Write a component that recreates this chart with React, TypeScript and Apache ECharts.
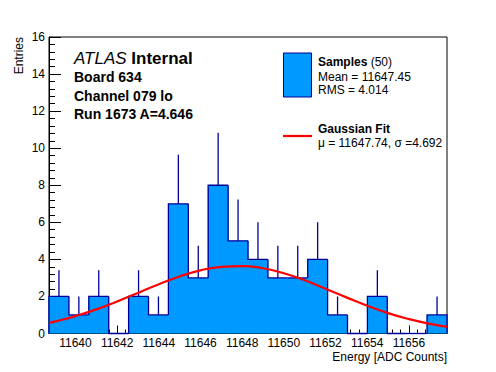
import React, { useEffect, useRef } from "react";
import * as echarts from "echarts";

// ---- data ----
const binCounts = [2, 1, 2, 0, 2, 1, 7, 3, 8, 5, 4, 3, 3, 4, 1, 0, 2, 0, 0, 1];
const binLow = 11638.73;
const binWidth = 0.955;
const xMin = 11638.73;
const xMax = 11657.83;

const fitX = [11638.73, 11639, 11640, 11641, 11642, 11643, 11644, 11645, 11646, 11647, 11648, 11649, 11650, 11651, 11652, 11653, 11654, 11655, 11656, 11657, 11657.83];
const fitY = [0.58, 0.64, 0.94, 1.3, 1.73, 2.19, 2.66, 3.08, 3.41, 3.6, 3.64, 3.52, 3.25, 2.87, 2.42, 1.95, 1.5, 1.1, 0.78, 0.52, 0.36];

const xTickLabels = [11640, 11642, 11644, 11646, 11648, 11650, 11652, 11654, 11656];
const xMinorTicks: number[] = [];
for (let k = 0; k < 48; k++) {
  const v = Math.round((11638.8 + k * 0.4) * 10) / 10;
  if (v > xMax) break;
  if (!xTickLabels.some((t) => Math.abs(t - v) < 1e-6)) xMinorTicks.push(v);
}
const yTickMax = 16;
const yTickStep = 2;

const FILL = "#0099ff";
const EDGE = "#000099";
const FONT = "Liberation Sans, Arial, Helvetica, sans-serif";

export default function App() {
  const ref = useRef<HTMLDivElement>(null);
  useEffect(() => {
    if (!ref.current) return;
    const chart = echarts.init(ref.current, null, { renderer: "svg" });
    const last = binCounts.length - 1;
    const histData = binCounts.map((c, i) => [
      binLow + i * binWidth,
      binLow + (i + 1) * binWidth,
      c,
      i > 0 ? binCounts[i - 1] : 0,
      i === last ? 1 : 0,
    ]);
    chart.setOption({
      animation: false,
      backgroundColor: "#fff",
      textStyle: { fontFamily: FONT },
      grid: {
        left: 49,
        right: 49,
        top: 37,
        bottom: 38.5,
        show: true,
        borderColor: "#000",
        borderWidth: 1,
        backgroundColor: "transparent",
      },
      xAxis: [
        {
          type: "value",
          min: xMin,
          max: xMax,
          position: "bottom",
          axisLine: { show: true, onZero: false, lineStyle: { color: "#000", width: 1 } },
          axisTick: { show: true, inside: true, length: 8, customValues: xTickLabels, lineStyle: { color: "#000" } },
          axisLabel: {
            customValues: xTickLabels,
            color: "#000",
            fontSize: 12,
            margin: 3,
            fontFamily: FONT,
            lineHeight: 12,
            formatter: (v: number) => String(v),
          },
          splitLine: { show: false },
        },
        {
          type: "value",
          min: xMin,
          max: xMax,
          position: "bottom",
          axisLine: { show: false, onZero: false },
          axisTick: { show: true, inside: true, length: 4, customValues: xMinorTicks, lineStyle: { color: "#000" } },
          axisLabel: { show: false },
          splitLine: { show: false },
        },
      ],
      yAxis: {
        type: "value",
        min: 0,
        max: yTickMax,
        interval: yTickStep,
        axisLine: { show: true, lineStyle: { color: "#000", width: 1 } },
        axisTick: { show: true, inside: true, length: 12, lineStyle: { color: "#000" } },
        minorTick: { show: true, splitNumber: 5, length: 6, lineStyle: { color: "#000" } },
        axisLabel: { color: "#000", fontSize: 12, margin: 4, fontFamily: FONT },
        splitLine: { show: false },
      },
      series: [
        {
          type: "custom",
          xAxisIndex: 0,
          yAxisIndex: 0,
          z: 2,
          encode: { x: [0, 1], y: 2 },
          data: histData,
          renderItem: (params: any, api: any) => {
            const x0 = api.value(0);
            const x1 = api.value(1);
            const c = api.value(2);
            const prev = api.value(3);
            const isLast = api.value(4);
            const tl = api.coord([x0, c]);
            const br = api.coord([x1, 0]);
            const pPrev = api.coord([x0, prev]);
            const children: any[] = [];
            if (c > 0) {
              children.push({
                type: "rect",
                shape: { x: tl[0] - 0.4, y: tl[1], width: br[0] - tl[0] + 0.8, height: br[1] - tl[1] },
                style: { fill: FILL },
              });
            }
            const pts = [
              [tl[0], pPrev[1]],
              [tl[0], tl[1]],
              [br[0], tl[1]],
            ];
            if (isLast) pts.push([br[0], br[1]]);
            children.push({
              type: "polyline",
              shape: { points: pts },
              style: { stroke: EDGE, lineWidth: 1.3, fill: null },
            });
            if (c > 0) {
              const xm = (x0 + x1) / 2;
              const a = api.coord([xm, c]);
              const b = api.coord([xm, c + Math.sqrt(c)]);
              children.push({
                type: "line",
                shape: { x1: a[0], y1: a[1], x2: b[0], y2: b[1] },
                style: { stroke: EDGE, lineWidth: 1.3 },
              });
            }
            return { type: "group", children };
          },
        },
        {
          type: "line",
          xAxisIndex: 0,
          yAxisIndex: 0,
          z: 5,
          smooth: true,
          showSymbol: false,
          symbol: "none",
          data: fitX.map((x, i) => [x, fitY[i]]),
          lineStyle: { color: "#ff0000", width: 2.2 },
        },
      ],
      graphic: [
        {
          type: "text",
          x: 74,
          y: 58,
          style: {
            text: "{i|ATLAS} {b|Internal}",
            verticalAlign: "middle",
            rich: {
              i: { fontStyle: "italic", fontSize: 17, fontFamily: FONT, fill: "#000" },
              b: { fontWeight: "bold", fontSize: 17, fontFamily: FONT, fill: "#000" },
            },
            fontSize: 17,
            fontFamily: FONT,
          },
        },
        { type: "text", x: 74, y: 77, style: { text: "Board 634", fontSize: 14, fontWeight: "bold", fontFamily: FONT, fill: "#000", verticalAlign: "middle" } },
        { type: "text", x: 74, y: 96, style: { text: "Channel 079 lo", fontSize: 14, fontWeight: "bold", fontFamily: FONT, fill: "#000", verticalAlign: "middle" } },
        { type: "text", x: 74, y: 114, style: { text: "Run 1673 A=4.646", fontSize: 14, fontWeight: "bold", fontFamily: FONT, fill: "#000", verticalAlign: "middle" } },
        // legend
        { type: "rect", shape: { x: 283.5, y: 53, width: 28, height: 44 }, style: { fill: FILL, stroke: EDGE, lineWidth: 1 } },
        {
          type: "text",
          x: 318,
          y: 62,
          style: {
            text: "{b|Samples} (50)",
            verticalAlign: "middle",
            fontSize: 12,
            fontFamily: FONT,
            fill: "#000",
            rich: { b: { fontWeight: "bold", fontSize: 12, fontFamily: FONT, fill: "#000" } },
          },
        },
        { type: "text", x: 318, y: 77, style: { text: "Mean = 11647.45", fontSize: 12, fontFamily: FONT, fill: "#000", verticalAlign: "middle" } },
        { type: "text", x: 318, y: 90, style: { text: "RMS = 4.014", fontSize: 12, fontFamily: FONT, fill: "#000", verticalAlign: "middle" } },
        { type: "text", x: 318, y: 129, style: { text: "Gaussian Fit", fontSize: 12, fontWeight: "bold", fontFamily: FONT, fill: "#000", verticalAlign: "middle" } },
        { type: "line", shape: { x1: 283, y1: 136, x2: 312, y2: 136 }, style: { stroke: "#ff0000", lineWidth: 2.2 } },
        { type: "text", x: 318, y: 143, style: { text: "μ = 11647.74, σ =4.692", fontSize: 12, fontFamily: FONT, fill: "#000", verticalAlign: "middle" } },
        // axis titles
        {
          type: "text",
          x: 19,
          y: 37,
          rotation: Math.PI / 2,
          style: { text: "Entries", fontSize: 12, fontFamily: FONT, fill: "#000", align: "right", verticalAlign: "middle" },
        },
        {
          type: "text",
          x: 447,
          y: 357,
          style: { text: "Energy [ADC Counts]", fontSize: 12, fontFamily: FONT, fill: "#000", align: "right", verticalAlign: "middle", lineHeight: 12 },
        },
      ],
    });
    return () => chart.dispose();
  }, []);
  return <div ref={ref} style={{ width: 496, height: 372, position: "absolute", left: 0, top: 0 }} />;
}
